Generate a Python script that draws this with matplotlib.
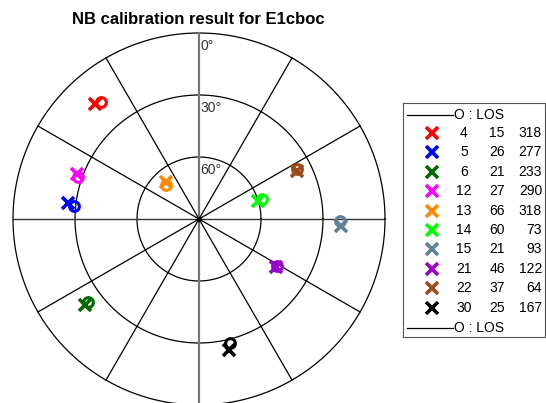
import numpy as np
import matplotlib
matplotlib.use('Agg')
import matplotlib.pyplot as plt

plt.rcParams['font.family'] = ['Liberation Sans', 'DejaVu Sans']

# satellite list: PRN, elevation (deg), azimuth (deg)
prn = [4, 5, 6, 12, 13, 14, 15, 21, 22, 30]
elev = [15, 26, 21, 27, 66, 60, 21, 46, 37, 25]
azim = [318, 277, 233, 290, 318, 73, 93, 122, 64, 167]
# line-of-sight position found by the calibration
los_elev = [16, 29, 23, 28, 67, 58, 22, 46, 37, 28]
los_azim = [320, 276, 233, 289, 316, 72, 91, 121, 63, 166]
colors = ['#ff0000', '#0000ff', '#006a00', '#ff00ff', '#ff8800',
          '#00ff00', '#5f8196', '#9900cc', '#994c19', '#000000']
rings = [0, 30, 60]


def sky_xy(el, az):
    r = 90 - np.asarray(el, dtype=float)
    a = np.deg2rad(np.asarray(az, dtype=float))
    return r * np.sin(a), r * np.cos(a)


fig = plt.figure(figsize=(5.46, 4.03), dpi=100)

cx, cy, R = 199, 403 - 219, 186
ax = fig.add_axes([(cx - R) / 546, (cy - R) / 403, 2 * R / 546, 2 * R / 403])
ax.set_xlim(-90, 90)
ax.set_ylim(-90, 90)
ax.set_aspect('equal')
ax.axis('off')

t = np.linspace(0, 2 * np.pi, 400)
for el in rings:
    r = 90 - el
    ax.plot(r * np.cos(t), r * np.sin(t), color='k', lw=0.9, clip_on=False)
for a in range(0, 360, 30):
    if a % 90 == 0:
        continue
    x, y = sky_xy([90, 0], [a, a])
    ax.plot(x, y, color='k', lw=0.9, clip_on=False)
ax.plot([0, 0], [-90, 90], color='#777777', lw=1.6, clip_on=False)
ax.plot([-90, 90], [0, 0], color='#333333', lw=1.0, clip_on=False)
ax.plot(0, 0, 'o', color='k', ms=3)

for el in rings:
    ax.text(0.8, 90 - el - 3, '%d°' % el, fontsize=10, color='#333333',
            ha='left', va='top')

for i in range(len(prn)):
    x, y = sky_xy(elev[i], azim[i])
    ax.plot(x, y, 'x', color=colors[i], ms=9, mew=2.6)
    lx, ly = sky_xy(los_elev[i], los_azim[i])
    ax.plot(lx, ly, 'o', color=colors[i], ms=7, mew=2.2, fillstyle='none')

fig.text(198 / 546, 1 - 20 / 403, 'NB calibration result for E1cboc',
         fontsize=12, fontweight='bold', ha='center', va='center')

# legend box on the right
lg = fig.add_axes([403 / 546, 1 - 337 / 403, 142 / 546, 234 / 403])
lg.set_xlim(403, 545)
lg.set_ylim(337, 103)
lg.set_xticks([])
lg.set_yticks([])
for s in lg.spines.values():
    s.set_linewidth(0.8)
    s.set_color('#555555')

for yy in [115, 328]:
    lg.plot([407, 453], [yy, yy], color='k', lw=0.9)
    lg.text(454, yy, 'O : LOS', fontsize=10, ha='left', va='center')

for i in range(len(prn)):
    yy = 133 + i * 19.4
    lg.plot(432, yy, 'x', color=colors[i], ms=9, mew=2.6)
    lg.text(464, yy, str(prn[i]), fontsize=10, ha='center', va='center')
    lg.text(497, yy, str(elev[i]), fontsize=10, ha='center', va='center')
    lg.text(542, yy, str(azim[i]), fontsize=10, ha='right', va='center')

fig.savefig('out.png', dpi=100)
